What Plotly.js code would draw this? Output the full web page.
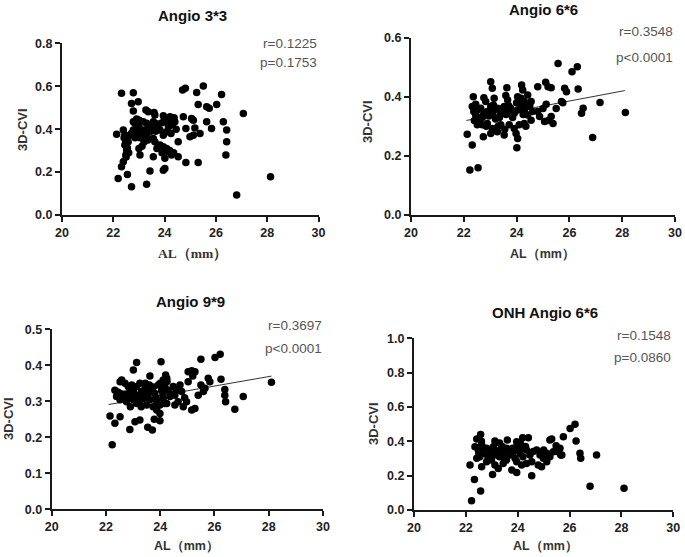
<!DOCTYPE html>
<html>
<head>
<meta charset="utf-8">
<script src="https://cdn.plot.ly/plotly-3.0.1.min.js"></script>
<style>html,body{margin:0;padding:0;background:#fff;}#chart{width:685px;height:557px;}</style>
</head>
<body>
<div id="chart"></div>
<script>
// ---------- DATA ----------
const panelTitles = ["Angio 3*3", "Angio 6*6", "Angio 9*9", "ONH Angio 6*6"];
const rTexts = ["r=0.1225", "r=0.3548", "r=0.3697", "r=0.1548"];
const pTexts = ["p=0.1753", "p<0.0001", "p<0.0001", "p=0.0860"];
const xTitle = "AL（mm）";
const yTitle = "3D-CVI";

const al1 = [22.32,22.78,24.70,24.81,25.25,25.51,26.22,22.71,22.97,25.31,25.64,25.74,26.03,27.07,22.78,23.27,23.36,23.59,23.62,22.91,23.01,23.95,24.21,24.37,24.73,25.05,25.12,22.78,22.84,22.94,23.17,23.30,23.43,23.56,23.69,24.08,24.21,24.40,24.83,25.18,25.64,25.83,26.29,26.42,22.13,22.39,22.45,22.52,22.58,22.45,22.52,22.49,22.39,22.32,22.19,22.55,22.71,22.78,22.91,23.04,23.10,23.23,23.30,23.43,23.56,23.62,23.82,23.95,24.08,23.82,23.95,24.08,24.14,24.27,24.53,24.53,23.04,23.56,24.01,24.01,23.95,23.43,23.30,24.83,25.31,24.99,25.12,25.38,26.42,26.39,26.81,28.13,22.42,22.48,22.52,22.55,22.60,22.50,22.62,22.70,22.85,23.00,23.12,23.20,23.35,23.50,23.65,23.75,23.90,24.00,24.15,24.30,24.25,24.45,24.20,24.35,23.70,23.90,22.95,23.05];
const cvi1 = [0.567,0.570,0.582,0.590,0.571,0.601,0.562,0.520,0.528,0.515,0.504,0.497,0.515,0.473,0.484,0.489,0.481,0.478,0.466,0.447,0.442,0.462,0.458,0.453,0.458,0.450,0.442,0.435,0.427,0.419,0.435,0.427,0.419,0.435,0.425,0.435,0.427,0.435,0.403,0.405,0.435,0.403,0.435,0.396,0.376,0.396,0.372,0.357,0.341,0.326,0.303,0.279,0.248,0.225,0.170,0.189,0.132,0.396,0.388,0.403,0.380,0.396,0.372,0.388,0.357,0.341,0.396,0.372,0.388,0.326,0.318,0.310,0.295,0.279,0.271,0.341,0.279,0.271,0.264,0.217,0.209,0.205,0.143,0.245,0.245,0.365,0.372,0.380,0.341,0.279,0.093,0.178,0.360,0.340,0.320,0.310,0.290,0.270,0.370,0.380,0.360,0.310,0.320,0.340,0.350,0.400,0.390,0.410,0.430,0.450,0.410,0.420,0.380,0.400,0.300,0.290,0.310,0.290,0.370,0.360];

const al2 = [25.57,26.10,26.30,23.02,23.08,23.63,24.19,24.23,24.80,25.10,25.19,25.31,25.82,25.89,26.33,22.36,22.76,22.83,23.15,23.12,23.59,23.66,24.04,24.17,24.29,24.42,24.55,25.12,25.70,26.52,26.46,27.16,26.88,28.12,22.32,22.38,22.45,22.51,22.64,22.76,22.89,23.02,23.15,23.27,23.40,23.53,23.66,23.78,23.91,24.04,24.17,24.29,24.42,22.51,22.70,22.89,23.08,23.02,23.27,23.40,23.53,23.72,23.91,23.98,24.04,24.10,24.29,24.55,24.80,24.87,25.06,25.31,25.38,22.13,22.32,22.74,24.01,22.23,22.54,22.45,22.58,22.70,22.95,23.10,23.20,23.35,23.45,23.60,23.70,23.85,24.00,24.10,24.25,24.35,24.50,24.60,22.60,22.85,23.30,23.55,24.35,25.00,25.50,25.20,25.75,22.40];
const cvi2 = [0.513,0.485,0.502,0.451,0.429,0.431,0.440,0.423,0.434,0.449,0.434,0.431,0.429,0.417,0.426,0.400,0.397,0.384,0.395,0.372,0.404,0.389,0.400,0.395,0.384,0.406,0.384,0.375,0.384,0.361,0.344,0.381,0.262,0.347,0.367,0.350,0.338,0.355,0.361,0.344,0.350,0.367,0.355,0.361,0.344,0.367,0.350,0.361,0.344,0.355,0.367,0.350,0.338,0.305,0.305,0.310,0.293,0.276,0.282,0.305,0.271,0.305,0.293,0.276,0.259,0.305,0.310,0.321,0.350,0.333,0.316,0.333,0.310,0.273,0.237,0.265,0.228,0.152,0.160,0.375,0.330,0.330,0.335,0.340,0.325,0.330,0.360,0.340,0.370,0.330,0.380,0.385,0.340,0.365,0.370,0.350,0.310,0.300,0.300,0.290,0.300,0.360,0.360,0.320,0.380,0.320];
const fitAl2 = [22.1, 28.1];
const fitCvi2 = [0.320, 0.421];

const al3 = [23.13,24.03,25.50,26.02,26.21,23.01,23.62,24.20,24.24,24.11,25.03,25.16,25.28,25.03,25.77,25.83,26.24,22.52,22.58,22.70,22.82,22.95,23.01,23.13,23.25,23.31,23.44,23.56,23.68,23.80,23.93,24.05,24.17,24.30,24.48,24.54,24.73,24.79,22.33,22.39,22.52,22.64,22.76,22.88,23.01,23.13,23.25,23.37,23.50,23.62,23.74,23.87,23.99,24.11,24.24,24.36,24.54,24.66,24.85,24.97,25.16,25.28,25.40,25.65,25.59,26.38,26.38,26.41,26.75,27.06,22.15,22.33,22.52,22.88,23.07,23.25,23.54,23.71,23.78,23.99,23.99,23.87,24.17,22.23,28.10,22.45,22.60,22.75,22.90,23.05,23.20,23.35,23.45,23.60,23.75,23.85,24.00,24.10,24.25,24.40,22.90,23.30,23.50,24.60,24.90,25.20,25.50];
const cvi3 = [0.408,0.410,0.417,0.422,0.431,0.387,0.370,0.373,0.364,0.359,0.382,0.385,0.382,0.354,0.364,0.354,0.361,0.354,0.359,0.350,0.341,0.345,0.331,0.341,0.350,0.327,0.336,0.322,0.331,0.322,0.345,0.331,0.341,0.331,0.341,0.317,0.345,0.327,0.331,0.313,0.304,0.308,0.299,0.313,0.304,0.294,0.299,0.308,0.290,0.304,0.285,0.299,0.290,0.308,0.294,0.313,0.290,0.299,0.285,0.299,0.276,0.280,0.317,0.336,0.327,0.333,0.317,0.299,0.278,0.313,0.259,0.239,0.257,0.222,0.243,0.248,0.228,0.220,0.250,0.246,0.266,0.276,0.294,0.179,0.353,0.325,0.320,0.320,0.330,0.320,0.315,0.320,0.350,0.345,0.340,0.310,0.350,0.320,0.355,0.320,0.285,0.285,0.310,0.330,0.310,0.370,0.345];
const fitAl3 = [22.1, 28.1];
const fitCvi3 = [0.291, 0.370];

const al4 = [26.21,26.02,25.76,26.25,25.24,25.31,24.41,24.19,22.57,22.42,23.12,23.60,23.96,25.48,25.63,25.66,26.40,26.43,27.04,22.35,22.48,22.61,22.54,22.67,22.80,22.93,23.06,23.19,23.32,23.44,23.57,23.70,23.83,23.96,24.09,24.22,24.34,24.47,24.73,24.86,24.99,25.12,25.24,25.37,22.42,22.61,22.80,22.99,23.12,23.25,23.44,23.57,23.77,23.96,24.15,24.34,24.54,24.79,24.92,25.12,22.16,22.33,22.57,23.03,23.96,24.54,26.79,28.10,22.22,22.50,22.70,22.85,23.00,23.10,23.30,23.40,23.50,23.65,23.80,23.90,24.05,24.20,24.30,24.10,24.60,25.00,25.50,25.70,22.60,23.30];
const cvi4 = [0.499,0.475,0.427,0.402,0.407,0.413,0.421,0.421,0.440,0.413,0.402,0.407,0.398,0.374,0.359,0.320,0.330,0.301,0.320,0.369,0.349,0.378,0.310,0.330,0.359,0.339,0.369,0.320,0.349,0.330,0.359,0.320,0.339,0.369,0.330,0.359,0.349,0.320,0.349,0.320,0.301,0.330,0.310,0.339,0.301,0.252,0.281,0.291,0.262,0.242,0.271,0.291,0.233,0.281,0.262,0.271,0.281,0.262,0.252,0.281,0.262,0.178,0.110,0.207,0.219,0.200,0.139,0.126,0.054,0.330,0.360,0.310,0.320,0.350,0.310,0.370,0.300,0.340,0.360,0.300,0.350,0.310,0.370,0.390,0.340,0.350,0.340,0.320,0.400,0.390];

// ---------- LAYOUT HELPERS ----------
const W = 685, H = 557;
const dx = (a, b) => [a / W, b / W];
const dy = (top, bottom) => [1 - bottom / H, 1 - top / H];
const SANS = "Liberation Sans, Arial, sans-serif";

function xa(domain, anchor) {
  return {domain: domain, range: [20, 30], dtick: 2, tick0: 20, anchor: anchor,
    showline: true, linecolor: '#1a1a1a', linewidth: 2, ticks: 'outside', ticklen: 5, tickwidth: 2,
    tickcolor: '#1a1a1a', showgrid: false, zeroline: false, fixedrange: true,
    tickfont: {family: SANS, size: 12.5, color: '#222', weight: 'bold'}};
}
function ya(domain, anchor, top, step) {
  return {domain: domain, range: [0, top], dtick: step, tick0: 0, anchor: anchor, tickformat: '.1f',
    showline: true, linecolor: '#1a1a1a', linewidth: 2, ticks: 'outside', ticklen: 5, tickwidth: 2,
    tickcolor: '#1a1a1a', showgrid: false, zeroline: false, fixedrange: true,
    tickfont: {family: SANS, size: 12.5, color: '#222', weight: 'bold'}};
}
function ann(text, px, py, o) {
  return Object.assign({text: text, x: px / W, y: 1 - py / H, xref: 'paper', yref: 'paper',
    showarrow: false, xanchor: 'center', yanchor: 'middle'}, o || {});
}

const mk = {color: '#000', size: 7.5, line: {width: 0}};
const pts = (x, y, xa_, ya_) => ({type: 'scatter', mode: 'markers', x: x, y: y, xaxis: xa_, yaxis: ya_, marker: mk, hoverinfo: 'skip'});
const fit = (x, y, xa_, ya_) => ({type: 'scatter', mode: 'lines', x: x, y: y, xaxis: xa_, yaxis: ya_, line: {color: '#333', width: 1}, hoverinfo: 'skip'});

const data = [
  pts(al1, cvi1, 'x', 'y'),
  fit(fitAl2, fitCvi2, 'x2', 'y2'),
  pts(al2, cvi2, 'x2', 'y2'),
  fit(fitAl3, fitCvi3, 'x3', 'y3'),
  pts(al3, cvi3, 'x3', 'y3'),
  pts(al4, cvi4, 'x4', 'y4')
];

const titleFont = {family: SANS, size: 15, color: '#111', weight: 'bold'};
const statFont = {family: SANS, size: 13.5, color: '#555'};
const yTitleFont = {family: SANS, size: 13, color: '#333', weight: 'bold'};
const xTitleFont = {family: SANS, size: 12.5, color: '#333', weight: 'bold'};
const xTitleSerif = {family: "Liberation Serif, Times New Roman, serif", size: 13.5, color: '#333', weight: 'bold'};

const annotations = [
  ann(panelTitles[0], 192, 16, {font: titleFont}),
  ann(panelTitles[1], 543, 10, {font: titleFont}),
  ann(panelTitles[2], 190, 301, {font: titleFont}),
  ann(panelTitles[3], 545, 312, {font: titleFont}),

  ann(rTexts[0], 319, 43, {font: statFont, xanchor: 'right'}),
  ann(pTexts[0], 319, 62, {font: statFont, xanchor: 'right'}),
  ann(rTexts[1], 675, 32, {font: statFont, xanchor: 'right'}),
  ann(pTexts[1], 675, 57, {font: statFont, xanchor: 'right'}),
  ann(rTexts[2], 324, 325, {font: statFont, xanchor: 'right'}),
  ann(pTexts[2], 324, 348, {font: statFont, xanchor: 'right'}),
  ann(rTexts[3], 673, 335, {font: statFont, xanchor: 'right'}),
  ann(pTexts[3], 673, 357, {font: statFont, xanchor: 'right'}),

  ann(yTitle, 22, 130, {font: yTitleFont, textangle: -90}),
  ann(yTitle, 367, 122, {font: yTitleFont, textangle: -90}),
  ann(yTitle, 8, 419, {font: yTitleFont, textangle: -90}),
  ann(yTitle, 373, 424, {font: yTitleFont, textangle: -90}),

  ann(xTitle, 192, 253, {font: xTitleSerif}),
  ann(xTitle, 542, 254, {font: xTitleFont}),
  ann(xTitle, 187, 546, {font: xTitleFont}),
  ann(xTitle, 545, 546, {font: xTitleFont})
];

const layout = {
  width: W, height: H, margin: {l: 0, r: 0, t: 0, b: 0},
  paper_bgcolor: '#fff', plot_bgcolor: 'rgba(0,0,0,0)', showlegend: false,
  xaxis: xa(dx(62, 318.5), 'y'),
  yaxis: ya(dy(43.3, 215), 'x', 0.8, 0.2),
  xaxis2: xa(dx(411, 675), 'y2'),
  yaxis2: ya(dy(37.7, 215), 'x2', 0.6, 0.2),
  xaxis3: xa(dx(51.7, 323), 'y3'),
  yaxis3: ya(dy(329.3, 509.3), 'x3', 0.5, 0.1),
  xaxis4: xa(dx(414, 673.3), 'y4'),
  yaxis4: ya(dy(338.3, 510), 'x4', 1.0, 0.2),
  annotations: annotations
};

Plotly.newPlot('chart', data, layout, {displayModeBar: false, staticPlot: true});
</script>
</body>
</html>
